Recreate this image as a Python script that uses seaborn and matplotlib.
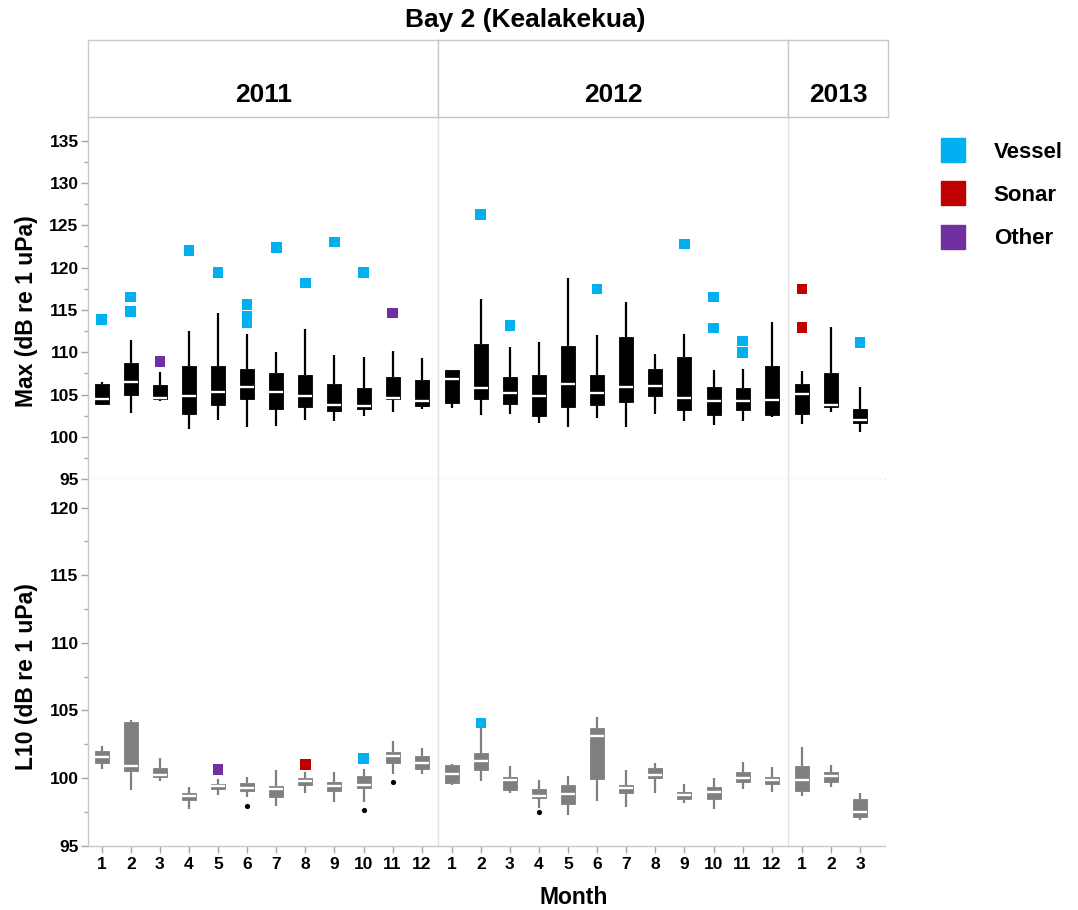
import numpy as np
import pandas as pd
import matplotlib
matplotlib.use("Agg")
import matplotlib.pyplot as plt
from matplotlib.lines import Line2D
import seaborn as sns

# ---- data -------------------------------------------------------------
years = ["2011", "2012", "2013"]
box_year = ["2011"] * 12 + ["2012"] * 12 + ["2013"] * 3
box_month = list(range(1, 13)) + list(range(1, 13)) + [1, 2, 3]

# Max level per month: whisker low, Q1, median, Q3, whisker high
max_low = [103.75, 102.8, 104.3, 100.9, 102.0, 101.15, 101.35, 101.95, 101.85, 102.5, 102.95, 103.3,
           103.4, 102.55, 102.75, 101.6, 101.2, 102.2, 101.2, 102.75, 101.9, 101.4, 101.9, 102.4,
           101.5, 103.0, 100.6]
max_q1 = [103.9, 104.9, 104.5, 102.7, 103.8, 104.5, 103.3, 103.55, 103.05, 103.3, 104.5, 103.6,
          104.0, 104.45, 103.9, 102.5, 103.55, 103.8, 104.15, 104.8, 103.2, 102.6, 103.2, 102.6,
          102.75, 103.55, 101.6]
max_med = [104.45, 106.5, 104.65, 104.85, 105.3, 105.95, 105.3, 104.85, 103.75, 103.7, 104.65, 104.2,
           106.9, 105.8, 105.2, 104.85, 106.3, 105.2, 105.9, 106.05, 104.65, 104.25, 104.2, 104.4,
           105.1, 103.8, 101.95]
max_q3 = [106.25, 108.75, 106.15, 108.4, 108.35, 108.05, 107.5, 107.3, 106.25, 105.75, 107.1, 106.7,
          107.95, 110.95, 107.1, 107.3, 110.7, 107.3, 111.75, 108.05, 109.4, 105.95, 105.8, 108.35,
          106.25, 107.5, 103.35]
max_high = [106.5, 111.45, 107.65, 112.5, 114.6, 112.2, 110.0, 112.8, 109.7, 109.4, 110.1, 109.3,
            107.95, 116.3, 110.6, 111.25, 118.75, 112.1, 116.0, 109.8, 112.2, 107.9, 108.05, 113.6,
            107.8, 113.0, 105.95]

# L10 level per month: whisker low, Q1, median, Q3, whisker high
l10_low = [100.67, 99.14, 99.75, 97.73, 98.77, 98.62, 97.96, 98.89, 98.2, 98.25, 100.32, 100.27,
           99.48, 99.75, 98.89, 97.78, 97.27, 98.3, 97.86, 98.89, 98.18, 97.68, 99.19, 98.97,
           98.65, 99.36, 96.87]
l10_q1 = [101.13, 100.49, 100.07, 98.4, 99.16, 99.01, 98.6, 99.48, 99.04, 99.24, 101.11, 100.69,
          99.63, 100.62, 99.11, 98.5, 98.05, 99.95, 98.89, 99.98, 98.47, 98.45, 99.7, 99.53,
          99.04, 99.7, 97.09]
l10_med = [101.53, 100.89, 100.25, 98.65, 99.38, 99.26, 99.21, 99.8, 99.43, 99.51, 101.65, 101.08,
           100.3, 101.26, 99.83, 98.65, 98.84, 103.08, 99.26, 100.22, 98.74, 98.97, 99.98, 99.88,
           99.88, 100.12, 97.46]
l10_q3 = [102.02, 104.14, 100.76, 98.92, 99.56, 99.63, 99.38, 99.98, 99.7, 100.12, 101.9, 101.6,
          100.94, 101.87, 100.05, 99.21, 99.48, 103.74, 99.46, 100.74, 98.99, 99.31, 100.42, 100.05,
          100.86, 100.47, 98.47]
l10_high = [102.39, 104.31, 101.45, 99.31, 99.95, 100.1, 100.59, 100.47, 100.47, 100.69, 102.71, 102.24,
            101.06, 103.82, 100.86, 99.85, 100.15, 104.51, 100.57, 101.08, 99.56, 100.02, 101.16, 100.81,
            102.27, 100.94, 98.92]

# Individual outlying values with their noise source
max_out_year = ["2011", "2011", "2011", "2011", "2011", "2011", "2011", "2011", "2011", "2011",
                "2011", "2011", "2011", "2011",
                "2012", "2012", "2012", "2012", "2012", "2012", "2012", "2012",
                "2013", "2013", "2013"]
max_out_month = [1, 2, 2, 3, 4, 5, 6, 6, 6, 7, 8, 9, 10, 11,
                 2, 3, 6, 9, 10, 10, 11, 11,
                 1, 1, 3]
max_out_value = [113.9, 116.55, 114.85, 108.9, 122.05, 119.45, 115.65, 114.3, 113.55, 122.35, 118.2,
                 123.05, 119.4, 114.65,
                 126.25, 113.2, 117.5, 122.8, 116.55, 112.85, 111.35, 110.0,
                 117.5, 112.9, 111.15]
max_out_source = ["Vessel", "Vessel", "Vessel", "Other", "Vessel", "Vessel", "Vessel", "Vessel", "Vessel",
                  "Vessel", "Vessel", "Vessel", "Vessel", "Other",
                  "Vessel", "Vessel", "Vessel", "Vessel", "Vessel", "Vessel", "Vessel", "Vessel",
                  "Sonar", "Sonar", "Vessel"]

l10_out_year = ["2011", "2011", "2011", "2011", "2011", "2011", "2012", "2012"]
l10_out_month = [5, 6, 8, 10, 10, 11, 2, 4]
l10_out_value = [100.62, 97.96, 101.01, 101.45, 97.64, 99.73, 104.09, 97.46]
l10_out_source = ["Other", "Point", "Sonar", "Vessel", "Point", "Point", "Vessel", "Point"]

sources = ["Vessel", "Sonar", "Other"]
source_colors = ["#00B0F0", "#C00000", "#7030A0"]

# ---- long tables --------------------------------------------------------
rows = []
for metric, stats in [("Max", (max_low, max_q1, max_med, max_q3, max_high)),
                      ("L10", (l10_low, l10_q1, l10_med, l10_q3, l10_high))]:
    for i, (yr, mo) in enumerate(zip(box_year, box_month)):
        for arr in stats:
            rows.append((metric, yr, mo, arr[i]))
boxes = pd.DataFrame(rows, columns=["metric", "year", "month", "value"])

out = pd.concat([
    pd.DataFrame({"metric": "Max", "year": max_out_year, "month": max_out_month,
                  "value": max_out_value, "source": max_out_source}),
    pd.DataFrame({"metric": "L10", "year": l10_out_year, "month": l10_out_month,
                  "value": l10_out_value, "source": l10_out_source}),
], ignore_index=True)

# ---- style ----------------------------------------------------------------
sns.set_theme(style="white")
plt.rcParams["font.family"] = ["Liberation Sans", "DejaVu Sans"]
plt.rcParams["font.weight"] = "bold"
plt.rcParams["axes.labelweight"] = "bold"
plt.rcParams["text.color"] = "black"
plt.rcParams["axes.labelcolor"] = "black"

W, H = 1078, 910
fig = plt.figure(figsize=(W / 100, H / 100), dpi=100)


def rect(x0, x1, y0, y1):
    return [x0 / W, 1 - y1 / H, (x1 - x0) / W, (y1 - y0) / H]


col_px = [(88.3, 438.3), (438.3, 788.3), (788.3, 885.0)]
xlims = [(0.54, 12.57), (0.54, 12.57), (0.53, 3.86)]
row_px = {"Max": (117.3, 479.3), "L10": (479.3, 845.7)}
ylims = {"Max": (95, 137.76), "L10": (95, 122.1)}
ytop = {"Max": 135, "L10": 120}
fills = {"Max": "black", "L10": "#7F7F7F"}
ylabels = {"Max": "Max (dB re 1 uPa)", "L10": "L10 (dB re 1 uPa)"}
label_y = {"Max": 0.4635, "L10": 0.462}
axis_grey = "#C8C8C8"
divider_grey = "#E3E3E3"
tick_grey = "#A6A6A6"

for metric in ["Max", "L10"]:
    y0, y1 = row_px[metric]
    for ci, yr in enumerate(years):
        x0, x1 = col_px[ci]
        ax = fig.add_axes(rect(x0, x1, y0, y1))
        sub = boxes[(boxes.metric == metric) & (boxes.year == yr)]
        fc = fills[metric]
        sns.boxplot(data=sub, x="month", y="value", native_scale=True, whis=np.inf,
                    width=0.48, showcaps=False, color=fc, linecolor=fc, linewidth=1.5,
                    boxprops=dict(facecolor=fc, edgecolor=fc, linewidth=0.6),
                    medianprops=dict(color="white", linewidth=1.7),
                    whiskerprops=dict(color=fc, linewidth=1.6),
                    ax=ax)

        osub = out[(out.metric == metric) & (out.year == yr)]
        col_pts = osub[osub.source.isin(sources)]
        if len(col_pts):
            sns.scatterplot(data=col_pts, x="month", y="value", hue="source",
                            hue_order=sources, palette=source_colors, marker="s", s=58,
                            edgecolor=None, linewidth=0, legend=False, ax=ax, zorder=5)
        dots = osub[osub.source == "Point"]
        if len(dots):
            sns.scatterplot(data=dots, x="month", y="value", color="black", s=14,
                            linewidth=0, legend=False, ax=ax, zorder=5)

        ax.set_xlim(*xlims[ci])
        ax.set_ylim(*ylims[metric])
        ax.set_xlabel("")
        ax.set_ylabel("")
        ax.set_facecolor("white")

        for side in ["top", "right"]:
            ax.spines[side].set_visible(False)
        ax.spines["left"].set_color(axis_grey if ci == 0 else divider_grey)
        ax.spines["left"].set_linewidth(1.0)
        ax.spines["bottom"].set_color(axis_grey if metric == "L10" else "#D9D9D9")
        ax.spines["bottom"].set_linewidth(1.0)

        months = sorted(sub.month.unique())
        ax.set_xticks(months)
        ax.set_xticklabels([str(m) for m in months])
        if metric == "L10":
            ax.tick_params(axis="x", bottom=True, length=5, width=1, color=tick_grey,
                           labelcolor="black", labelsize=12.5, pad=3)
        else:
            ax.tick_params(axis="x", bottom=False, labelbottom=False)

        if ci == 0:
            ax.set_yticks(np.arange(95, ytop[metric] + 1, 5))
            ax.set_yticklabels([str(v) for v in range(95, ytop[metric] + 1, 5)])
            ax.set_yticks(np.arange(97.5, ytop[metric], 5), minor=True)
            ax.tick_params(axis="y", which="major", left=True, length=5, width=1,
                           color=tick_grey, labelcolor="black", labelsize=12.5, pad=2)
            ax.tick_params(axis="y", which="minor", left=True, length=3, width=1,
                           color=tick_grey)
            ax.set_ylabel(ylabels[metric], fontsize=16.5, fontweight="bold", color="black")
            ax.yaxis.set_label_coords(-0.145, label_y[metric])
        else:
            ax.tick_params(axis="y", which="both", left=False, labelleft=False)
        ax.grid(False)

# year header boxes
for ci, yr in enumerate(years):
    x0, x1 = col_px[ci]
    hx1 = 887.7 if ci == 2 else x1
    hax = fig.add_axes(rect(x0, hx1, 40.0, 117.3))
    hax.set_xticks([])
    hax.set_yticks([])
    hax.set_facecolor("white")
    for sp in hax.spines.values():
        sp.set_color(axis_grey)
        sp.set_linewidth(1.0)
    hax.text(0.5, 0.29, yr, ha="center", va="center", fontsize=19, fontweight="bold",
             color="black", transform=hax.transAxes)

fig.text(525 / W, 1 - 20 / H, "Bay 2 (Kealakekua)", ha="center", va="center",
         fontsize=19, fontweight="bold", color="black")
fig.text(574 / W, 1 - 897 / H, "Month", ha="center", va="center",
         fontsize=16.5, fontweight="bold", color="black")

handles = [Line2D([0], [0], marker="s", linestyle="", markersize=17,
                  markerfacecolor=c, markeredgecolor=c) for c in source_colors]
fig.legend(handles, sources, loc="upper left", bbox_to_anchor=(941.5 / W, 1 - 142 / H),
           frameon=False, handlelength=1.0, handletextpad=1.35, labelspacing=1.0,
           borderpad=0, borderaxespad=0, prop=dict(size=16, weight="bold"),
           labelcolor="black")

fig.savefig("out.png", dpi=100)
